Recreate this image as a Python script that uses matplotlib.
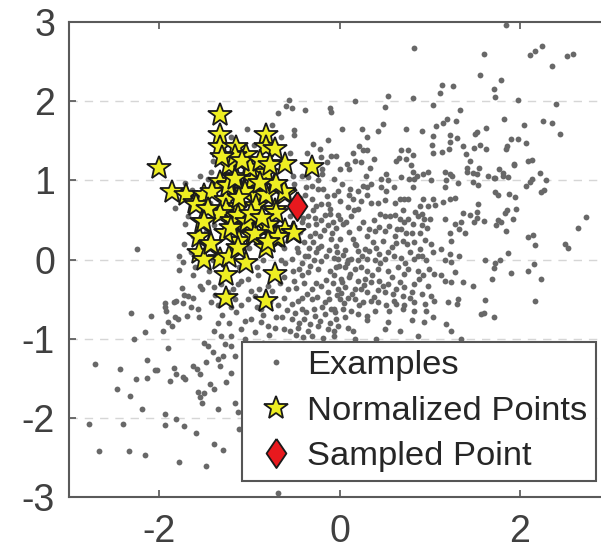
import matplotlib
matplotlib.use('Agg')
import matplotlib.pyplot as plt
import numpy as np

plt.rcParams['font.family'] = ['Liberation Sans', 'DejaVu Sans']
plt.rcParams['axes.unicode_minus'] = False

# Gray "Examples" points (x, y)
examples_xy = [
    (1.85, 2.96), (1.60, 2.60), (2.11, 2.58), (2.17, 2.63), (2.25, 2.70), (2.52, 2.57), (2.59, 2.60),
    (2.36, 2.44), (1.56, 2.33), (1.79, 2.27), (1.71, 2.16), (1.73, 2.05), (1.98, 2.02), (2.40, 1.97),
    (1.82, 1.78), (2.05, 1.70), (2.26, 1.75), (2.36, 1.73), (2.44, 1.59), (1.63, 1.66), (1.50, 1.58),
    (1.52, 1.61), (1.90, 1.52), (1.98, 1.52), (2.07, 1.47), (1.86, 1.44), (1.85, 1.39), (1.56, 1.45),
    (1.49, 1.41), (1.63, 1.39), (1.93, 1.21), (1.94, 1.19), (2.09, 1.24), (2.13, 1.26), (1.45, 1.25),
    (1.48, 1.09), (1.52, 1.08), (1.55, 1.16), (1.65, 1.06), (1.71, 1.03), (1.73, 1.03), (1.77, 1.14),
    (1.81, 1.09), (1.81, 1.06), (1.87, 1.04), (2.22, 1.09), (2.29, 1.01), (2.13, 1.02), (2.11, 0.98),
    (2.07, 0.93), (1.48, 0.98), (1.54, 0.94), (1.73, 0.85), (1.76, 0.81), (1.88, 0.83), (1.95, 0.79),
    (2.27, 0.88), (2.23, 0.85), (1.54, 0.70), (1.53, 0.60), (1.45, 0.56), (1.53, 0.52), (1.60, 0.49),
    (1.49, 0.47), (1.86, 0.62), (1.84, 0.59), (1.96, 0.64), (1.92, 0.51), (1.76, 0.50), (1.79, 0.47),
    (1.74, 0.44), (1.85, 0.36), (2.09, 0.29), (2.15, 0.31), (2.17, 0.18), (2.64, 0.40), (2.73, 0.54),
    (2.50, 0.20), (2.53, 0.14), (1.87, 0.08), (1.61, 0.00), (1.78, 0.00),
    (1.72, -0.05), (1.71, -0.11), (1.90, -0.17), (2.09, -0.15), (2.16, -0.06), (2.23, -0.25),
    (1.69, -0.25), (1.48, -0.34), (1.61, -0.51), (2.17, -0.53), (1.57, -0.69), (1.60, -0.68), (1.71, -0.72),
    (0.83, 2.67), (0.54, 2.07), (0.82, 2.04), (0.17, 2.00), (0.50, 1.93), (1.04, 1.95), (1.11, 2.10),
    (1.14, 2.20), (1.26, 2.19), (1.34, 1.89), (0.03, 1.65), (0.25, 1.65), (0.31, 1.55), (0.43, 1.62),
    (0.48, 1.71), (0.74, 1.65), (0.91, 1.62), (1.07, 1.69), (1.15, 1.73), (1.19, 1.78), (1.29, 1.75),
    (1.04, 1.56), (1.22, 1.57), (1.30, 1.53), (1.03, 1.45), (1.04, 1.35), (1.14, 1.36), (1.21, 1.39),
    (1.22, 1.49), (1.37, 1.43), (1.40, 1.33), (-0.04, 1.31), (0.15, 1.35), (0.22, 1.43), (0.26, 1.38),
    (0.30, 1.38), (0.38, 1.27), (0.17, 1.25), (0.24, 1.23), (0.08, 1.21), (0.01, 1.14), (0.11, 1.14),
    (0.34, 1.16), (0.68, 1.38), (0.76, 1.38), (0.81, 1.32), (0.63, 1.25), (0.66, 1.28), (0.74, 1.27),
    (0.79, 1.19), (0.81, 1.11), (0.86, 1.06), (0.93, 1.08), (0.98, 1.11), (0.83, 1.02), (0.68, 1.04),
    (0.77, 1.02), (1.02, 1.01), (0.82, 0.92), (0.52, 1.08), (0.46, 1.02), (0.54, 1.00), (0.29, 1.06),
    (0.03, 0.96), (-0.02, 0.87), (0.12, 0.89), (0.20, 0.86), (0.26, 0.93), (0.31, 0.91), (0.35, 0.95),
    (0.46, 0.92), (0.52, 0.87), (0.60, 0.92), (1.17, 1.10), (1.22, 1.08), (1.25, 1.05), (1.18, 1.00),
    (1.17, 0.91), (1.31, 0.97), (1.41, 1.10), (1.41, 1.16), (-0.06, 0.81), (0.00, 0.74), (0.11, 0.81),
    (0.15, 0.76), (0.24, 0.74), (0.31, 0.81), (0.35, 0.72), (0.43, 0.72), (0.51, 0.75), (0.61, 0.72),
    (0.67, 0.76), (0.72, 0.77), (0.76, 0.76), (0.93, 0.77), (1.04, 0.77), (1.15, 0.73), (1.23, 0.77),
    (1.28, 0.78), (0.98, 0.68), (1.06, 0.69), (0.89, 0.67), (0.09, 0.66), (0.16, 0.62), (0.21, 0.64),
    (-0.02, 0.56), (0.01, 0.51), (0.07, 0.48), (0.26, 0.47), (0.33, 0.38), (0.39, 0.36), (0.44, 0.41),
    (0.50, 0.36), (0.50, 0.55), (0.56, 0.55), (0.61, 0.56), (0.67, 0.51), (0.72, 0.47), (0.76, 0.51),
    (0.81, 0.45), (0.87, 0.55), (0.91, 0.57), (0.94, 0.51), (1.00, 0.51), (0.91, 0.43), (0.89, 0.34),
    (0.68, 0.38), (0.74, 0.34), (0.61, 0.30), (0.70, 0.24), (0.63, 0.21), (0.83, 0.22), (1.17, 0.51),
    (1.28, 0.45), (1.35, 0.48), (1.37, 0.59), (1.32, 0.38), (1.22, 0.34), (1.24, 0.24), (1.39, 0.34),
    (0.00, 0.26), (-0.04, 0.17), (0.06, 0.12), (0.15, 0.26), (0.17, 0.19), (0.21, 0.11), (0.28, 0.13),
    (0.33, 0.11), (0.37, 0.22), (0.44, 0.07), (0.54, 0.09), (0.78, 0.09), (0.89, 0.13), (1.02, 0.19),
    (1.04, 0.09), (1.13, 0.13), (1.22, 0.07), (1.33, 0.05), (0.13, 0.01), (0.87, 0.05),
    (-0.02, 0.01), (0.09, -0.01), (0.20, -0.01), (0.30, 0.01), (0.39, -0.01), (0.50, 0.01), (0.68, 0.02),
    (0.83, 0.01), (0.96, -0.01), (1.17, -0.01), (1.24, -0.03), (-0.04, -0.10), (0.06, -0.10), (0.17, -0.12),
    (0.24, -0.10), (0.31, -0.14), (0.43, -0.12), (0.54, -0.14), (0.65, -0.10), (0.76, -0.12), (0.87, -0.14),
    (0.93, -0.20), (1.05, -0.18), (1.13, -0.20), (1.28, -0.16), (1.37, -0.29), (-0.06, -0.20), (0.02, -0.25),
    (0.11, -0.22), (0.20, -0.27), (0.28, -0.25), (0.35, -0.29), (0.44, -0.27), (0.54, -0.31), (0.63, -0.37),
    (0.72, -0.35), (0.83, -0.31), (0.98, -0.33), (1.17, -0.27), (1.24, -0.29), (-0.02, -0.37), (0.06, -0.35),
    (0.17, -0.37), (0.24, -0.37), (0.31, -0.41), (0.43, -0.39), (0.50, -0.41), (0.59, -0.44), (0.70, -0.46),
    (0.80, -0.41), (0.91, -0.44), (1.02, -0.46), (1.20, -0.54), (1.30, -0.56), (0.00, -0.50), (0.09, -0.48),
    (0.17, -0.50), (0.26, -0.54), (0.35, -0.52), (0.43, -0.54), (0.52, -0.58), (0.63, -0.56), (0.70, -0.62),
    (0.83, -0.54), (1.05, -0.52), (1.31, -0.50), (-0.06, -0.62), (0.04, -0.62), (0.13, -0.65), (0.20, -0.69),
    (0.30, -0.71), (0.39, -0.65), (0.55, -0.65), (0.72, -0.58), (0.83, -0.65), (0.96, -0.65), (1.04, -0.73),
    (0.09, -0.86), (0.15, -0.90), (0.54, -0.79), (0.67, -0.90), (0.80, -0.77), (0.94, -0.79), (1.18, -0.81),
    (1.24, -0.90), (1.35, -1.00), (-0.06, -0.96), (0.17, -1.00), (0.41, -1.00), (0.87, -0.96), (-0.04, -0.75),
    (0.06, -0.73), (0.31, -0.77), (0.50, -0.88),
    (-0.56, 2.02), (-0.59, 1.94), (-0.53, 1.92), (-0.38, 1.89), (-0.11, 1.92), (-0.09, 1.86), (-0.68, 1.85),
    (-0.51, 1.64), (-0.50, 1.57), (-1.03, 1.65), (-0.13, 1.51), (-0.22, 1.40), (-0.29, 1.46), (-0.36, 1.35),
    (-0.20, 1.29), (-0.14, 1.23), (-0.09, 1.31), (-0.42, 1.06), (-0.35, 1.04), (-0.19, 1.14), (-0.19, 1.08),
    (-0.31, 0.93), (-0.37, 0.91), (-0.24, 0.89), (-0.18, 0.89), (-0.38, 0.81), (-0.31, 0.76), (-0.26, 0.68),
    (-0.20, 0.70), (-0.13, 0.70), (-0.11, 0.57), (-0.16, 0.56), (-0.35, 0.55), (-0.27, 0.53), (-0.42, 0.47),
    (-0.35, 0.43), (-0.26, 0.45), (-0.27, 0.34), (-0.22, 0.30), (-0.46, 0.26), (-0.39, 0.22), (-0.29, 0.22),
    (-0.20, 0.17), (-0.09, 0.26), (-0.13, 0.43), (-0.07, 0.47), (-0.46, 0.09), (-0.35, 0.05), (-0.26, 0.09),
    (-1.42, 1.10), (-1.46, 1.02), (-1.48, 0.76), (-1.44, 0.72), (-1.39, 0.43), (-1.42, 0.22),
    (-1.71, 0.97), (-1.82, 0.65), (-1.71, 0.45), (-1.73, 0.19), (-2.25, 0.13), (-1.78, 0.05),
    (-1.78, -0.13), (-1.74, -0.03), (-1.63, -0.20), (-1.75, -0.36), (-1.72, -0.45), (-1.68, -0.46),
    (-1.62, -0.49), (-1.55, -0.34), (-1.74, -0.55), (-1.83, -0.54), (-1.81, -0.53), (-1.94, -0.55),
    (-1.93, -0.60), (-1.92, -0.65), (-1.65, -0.60), (-1.57, -0.62), (-1.56, -0.73), (-1.69, -0.71),
    (-1.82, -0.73), (-1.79, -0.75), (-1.90, -0.79), (-1.86, -0.84), (-2.31, -0.68), (-2.09, -0.71),
    (-2.16, -0.92), (-1.96, -0.90), (-2.28, -1.00), (-1.90, -1.12), (-2.71, -1.32), (-2.43, -1.38),
    (-2.13, -1.27), (-2.05, -1.39), (-2.02, -1.40), (-1.84, -1.37), (-1.81, -1.45), (-1.74, -1.49),
    (-1.71, -1.51), (-1.88, -1.53), (-1.62, -1.34), (-1.58, -1.38), (-1.55, -1.45), (-2.26, -1.51),
    (-2.14, -1.50), (-2.47, -1.64), (-2.32, -1.73), (-1.57, -1.67), (-1.55, -1.74), (-2.19, -1.89),
    (-1.93, -1.95), (-2.78, -2.08), (-2.40, -2.08), (-1.94, -2.09), (-1.81, -2.01), (-1.73, -2.10),
    (-1.59, -2.19), (-2.67, -2.42), (-2.34, -2.42), (-2.16, -2.47), (-1.78, -2.56),
    (-1.53, -0.37), (-1.46, -0.29), (-1.39, -0.35), (-1.31, -0.31), (-1.24, -0.41), (-1.18, -0.37),
    (-1.13, -0.31), (-1.09, -0.27), (-1.42, -0.54), (-1.35, -0.58), (-1.27, -0.52), (-1.16, -0.50),
    (-1.09, -0.58), (-1.01, -0.50), (-0.94, -0.46), (-0.89, -0.37), (-0.79, -0.33), (-0.92, -0.60),
    (-0.87, -0.62), (-0.77, -0.54), (-0.68, -0.58), (-0.57, -0.37), (-0.61, -0.22), (-0.50, -0.27),
    (-0.42, -0.20), (-0.35, -0.16), (-0.24, -0.12), (-0.42, -0.05), (-0.53, 0.01), (-0.31, -0.37),
    (-0.20, -0.33), (-0.13, -0.41), (-0.42, -0.48), (-0.31, -0.50), (-0.16, -0.54), (-0.53, -0.56),
    (-0.42, -0.62), (-0.64, -0.73), (-0.53, -0.75), (-0.39, -0.75), (-0.27, -0.71), (-0.16, -0.69),
    (-0.09, -0.62), (-0.98, -0.75), (-0.87, -0.79), (-0.79, -0.84), (-0.72, -0.86), (-0.61, -0.88),
    (-0.46, -0.86), (-0.35, -0.90), (-0.24, -0.84), (-0.13, -0.88), (-0.94, -0.92), (-1.09, -0.88),
    (-1.20, -0.96), (-1.31, -0.96), (-1.39, -0.90), (-1.50, -1.05), (-1.46, -1.09), (-1.40, -1.17),
    (-1.35, -1.26), (-1.48, -1.30), (-1.33, -1.34), (-1.27, -1.07), (-1.20, -1.09), (-1.29, -1.22),
    (-1.16, -1.22), (-1.20, -1.43), (-1.26, -1.55), (-1.39, -1.64), (-1.44, -1.57), (-1.50, -1.68),
    (-1.53, -1.81), (-1.35, -1.89), (-1.16, -1.81), (-1.13, -1.93), (-1.11, -2.14), (-1.39, -2.33),
    (-1.29, -2.40), (-1.48, -2.61), (-0.68, -2.95),
    (-0.48, -0.95), (-0.40, -0.98), (-0.30, -0.96), (-0.18, -0.99), (-0.06, -0.90),
    (-0.45, -0.80), (-0.33, -0.82), (-0.22, -0.78), (-0.10, -0.80), (-0.02, -0.84),
    (-0.49, -0.68), (-0.37, -0.66), (-0.28, -0.62), (-0.19, -0.60), (-0.05, -0.66),
    (-0.46, -0.52), (-0.36, -0.44), (-0.25, -0.47), (-0.12, -0.50), (-0.03, -0.45),
    (-0.48, -0.36), (-0.39, -0.30), (-0.26, -0.30), (-0.15, -0.26), (-0.07, -0.30),
    (-0.45, -0.12), (-0.33, -0.08), (-0.20, -0.02), (-0.11, -0.15), (-0.01, -0.08),
    (-0.38, 0.04), (-0.28, 0.00), (-0.15, 0.05), (-0.06, 0.02), (-0.47, 0.15),
    (-0.34, 0.14), (-0.24, 0.15), (-0.12, 0.12), (-0.03, 0.10), (-0.44, 0.35),
    (-0.33, 0.30), (-0.17, 0.37), (-0.08, 0.33), (-0.40, 0.52), (-0.20, 0.50), (-0.04, 0.40),
    (-0.29, 0.62), (-0.10, 0.64), (-0.44, 0.78), (-0.14, 0.80), (-0.24, 1.00), (-0.06, 1.02),
    (0.05, -0.55), (0.22, -0.58), (0.38, -0.47), (0.60, -0.52), (0.78, -0.48), (0.95, -0.56),
    (0.02, -0.42), (0.14, -0.44), (0.27, -0.32), (0.48, -0.34), (0.67, -0.28), (0.88, -0.24),
    (0.03, -0.28), (0.12, -0.18), (0.36, -0.20), (0.58, -0.22), (0.72, -0.18), (0.99, -0.12),
    (0.08, -0.05), (0.25, 0.05), (0.45, -0.04), (0.60, 0.05), (0.73, -0.05), (0.92, 0.04),
    (0.04, 0.06), (0.18, 0.18), (0.40, 0.15), (0.48, 0.24), (0.58, 0.16), (0.75, 0.20), (0.95, 0.25),
    (0.10, 0.35), (0.22, 0.40), (0.30, 0.30), (0.55, 0.42), (0.64, 0.38), (0.80, 0.34), (0.97, 0.40),
    (0.04, 0.45), (0.13, 0.55), (0.38, 0.50), (0.45, 0.58), (0.70, 0.62), (0.84, 0.60),
    (-1.45, -0.15), (-1.38, -0.45), (-1.30, -0.70), (-1.22, -0.80), (-1.15, -0.66), (-1.05, -0.78),
    (-0.98, -0.40), (-0.90, -0.20), (-0.85, -0.70), (-0.78, -0.95), (-0.75, -0.40), (-0.70, -0.72),
    (-0.66, -0.30), (-0.62, -0.48), (-0.58, -0.64), (-0.55, -0.90), (-0.52, -0.15), (-0.60, -0.05),
    (-0.92, -0.10), (-1.02, -0.25), (-1.12, -0.10), (-1.20, -0.60), (-1.35, -0.80), (-1.05, -1.00),
    (-0.95, -1.10), (-0.85, -1.05), (-1.00, -1.25),
    (-1.62, 0.30), (-1.65, 0.10), (-1.60, -0.10), (-1.68, 0.55), (-1.55, 1.05), (-1.40, 1.25),
    (-1.20, 1.55), (-0.95, 1.45), (-0.75, 1.70), (-0.65, 1.55), (-0.55, 1.35), (-0.52, 1.05),
    (-0.50, 0.95), (-0.55, 0.55), (-0.62, 0.15), (-0.65, 0.00), (-0.85, 0.00), (-1.00, 0.15),
    (-1.40, 0.00), (-1.48, 0.35), (-1.64, 0.88),
]

# Yellow "Normalized Points" stars (x, y)
stars_xy = [
    (-2.00, 1.15), (-1.86, 0.85), (-1.70, 0.81), (-1.60, 0.72), (-1.50, 0.81), (-1.33, 1.82), (-1.33, 1.57),
    (-1.33, 1.42), (-1.15, 1.42), (-1.04, 1.32), (-1.22, 1.19), (-0.82, 1.57), (-0.82, 1.42), (-0.71, 1.40),
    (-0.60, 1.21), (-1.00, 1.15), (-0.89, 1.11), (-1.15, 1.04), (-0.96, 1.00), (-0.82, 1.09), (-0.71, 0.96),
    (-1.33, 0.98), (-1.22, 0.94), (-1.41, 0.85), (-1.26, 0.75), (-1.06, 0.87), (-0.93, 0.81), (-0.82, 0.83),
    (-0.60, 0.83), (-1.59, 0.69), (-1.26, 0.62), (-1.11, 0.66), (-0.93, 0.68), (-0.71, 0.62), (-1.52, 0.47),
    (-1.33, 0.58), (-1.19, 0.49), (-1.04, 0.45), (-0.82, 0.41), (-0.60, 0.37), (-1.56, 0.28), (-1.44, 0.18),
    (-1.26, 0.33), (-1.11, 0.24), (-0.96, 0.30), (-0.82, 0.15), (-0.71, 0.28), (-0.52, 0.33), (-1.56, 0.08),
    (-1.33, 0.01), (-1.04, -0.05), (-1.22, 0.03), (-1.26, -0.20), (-0.72, -0.18), (-1.26, -0.48),
    (-0.82, -0.52), (-1.50, -0.01), (-0.31, 1.17), (-1.05, 0.85), (-0.81, 0.81), (-0.61, 0.85),
    (-0.70, 0.59), (-1.46, 0.64), (-1.13, 0.55), (-1.03, 0.47), (-0.79, 0.43), (-0.51, 0.34), (-0.68, 0.28),
    (-1.50, 0.47), (-1.26, 0.34), (-0.94, 0.32), (-0.79, 0.22), (-1.13, 0.15), (-1.42, 0.19), (-1.16, 1.31),
    (-0.99, 1.16), (-0.70, 0.95), (-1.24, 0.93), (-1.16, 1.02), (-1.08, 1.25), (-0.88, 1.25), (-1.12, 0.78),
    (-0.98, 0.58), (-0.86, 0.52), (-1.20, 0.40), (-0.88, 0.97), (-1.30, 1.30), (-0.77, 1.20),
]

# Red "Sampled Point"
sampled_x = [-0.47]
sampled_y = [0.67]

x_ticks = [-2, 0, 2]
y_ticks = [-3, -2, -1, 0, 1, 2, 3]
grid_levels = [-2, -1, 0, 1, 2]

fig = plt.figure(figsize=(6.01, 5.49), dpi=100)
ax = fig.add_axes([69 / 601, 52 / 549, 541 / 601, 475 / 549])

ex = np.array(examples_xy)
st = np.array(stars_xy)

for g in grid_levels:
    ax.axhline(g, color='#d6d6d6', lw=1.0, ls=(0, (6, 5)), zorder=0)

ax.plot(ex[:, 0], ex[:, 1], linestyle='none', marker='o', ms=4.2, color='#686868',
        mec='none', label='Examples', zorder=2)
ax.plot(st[:, 0], st[:, 1], linestyle='none', marker='*', ms=18, mfc='#eeee22',
        mec='#1a1a1a', mew=1.3, label='Normalized Points', zorder=3)
diamond = [(0, 1), (0.68, 0), (0, -1), (-0.68, 0), (0, 1)]
ax.plot(sampled_x, sampled_y, linestyle='none', marker=diamond, ms=21, mfc='#e8191e',
        mec='#1a1a1a', mew=1.3, label='Sampled Point', zorder=4)

ax.set_xlim(-3, 3)
ax.set_ylim(-3, 3)
ax.set_xticks(x_ticks)
ax.set_yticks(y_ticks)
ax.tick_params(direction='in', length=5, width=1.2, colors='#555555', labelcolor='#404040',
               labelsize=27, top=True, right=True)
ax.tick_params(axis='x', pad=12)
ax.tick_params(axis='y', pad=10)
for s in ax.spines.values():
    s.set_color('#5a5a5a')
    s.set_linewidth(1.5)

leg = ax.legend(loc='lower right', bbox_to_anchor=(596 / 601, 68 / 549),
                bbox_transform=fig.transFigure, fontsize=24.8, frameon=True, fancybox=False,
                edgecolor='#555555', framealpha=1, borderpad=0.25, labelspacing=0.42,
                handlelength=1.48, handletextpad=0.16, borderaxespad=0)
leg.get_frame().set_linewidth(1.5)
leg.set_zorder(10)
for t in leg.get_texts():
    t.set_color('#262626')

fig.savefig('out.png', dpi=100)
